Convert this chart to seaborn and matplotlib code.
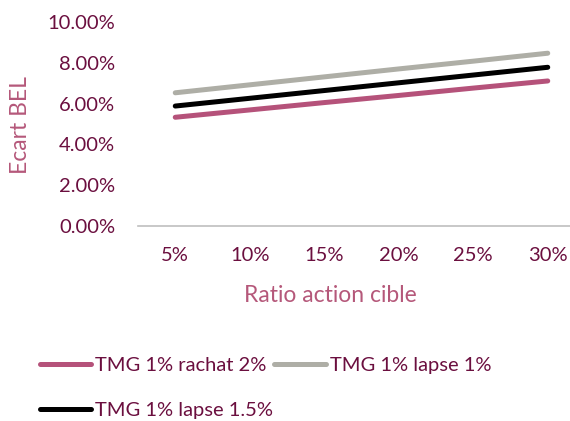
import matplotlib
matplotlib.use("Agg")
import matplotlib.pyplot as plt
import seaborn as sns
import pandas as pd
from matplotlib.ticker import PercentFormatter

ratios = ["5%", "10%", "15%", "20%", "25%", "30%"]
rachat_2 = [5.33, 5.69, 6.05, 6.40, 6.76, 7.11]
lapse_1 = [6.53, 6.92, 7.31, 7.70, 8.08, 8.47]
lapse_15 = [5.88, 6.26, 6.64, 7.02, 7.40, 7.78]
series_names = ["TMG 1% rachat 2%", "TMG 1% lapse 1%", "TMG 1% lapse 1.5%"]
series_values = [rachat_2, lapse_1, lapse_15]
colors = ["#B5527A", "#AEAEA6", "#000000"]

rows = []
for name, vals in zip(series_names, series_values):
    for i, (r, v) in enumerate(zip(ratios, vals)):
        rows.append({"pos": i, "ratio": r, "ecart": v / 100, "serie": name})
df = pd.DataFrame(rows)

sns.set_theme(style="white")
plt.rcParams["font.family"] = ["Lato", "DejaVu Sans"]

tick_color = "#6B0F3F"
label_color = "#B5587A"

fig = plt.figure(figsize=(5.70, 4.21), dpi=100)
ax = fig.add_axes([138 / 570, 1 - 226 / 421, (585 - 138) / 570, (226 - 22) / 421])

sns.lineplot(data=df, x="pos", y="ecart", hue="serie", hue_order=series_names,
             palette=colors, linewidth=3.6, ax=ax, legend=True, sort=False)
for line in ax.lines:
    line.set_solid_capstyle("round")

ax.set_xlim(-0.5, len(ratios) - 0.5)
ax.set_ylim(0, 0.10)
ax.set_yticks([0, 0.02, 0.04, 0.06, 0.08, 0.10])
ax.yaxis.set_major_formatter(PercentFormatter(1.0, decimals=2))
ax.set_xticks(range(len(ratios)))
ax.set_xticklabels(ratios)
ax.tick_params(axis="both", colors=tick_color, labelsize=14.5, length=0)
ax.tick_params(axis="x", pad=15)
ax.tick_params(axis="y", pad=16.5)

for side in ["top", "right", "left"]:
    ax.spines[side].set_visible(False)
ax.spines["bottom"].set_color("#BFBFBF")
ax.spines["bottom"].set_linewidth(1.2)

ax.set_xlabel("Ratio action cible", color=label_color, fontsize=16.5)
ax.xaxis.set_label_coords((330 - 138) / 447, -(296 - 226) / 204)
ax.xaxis.label.set_va("center")
ax.set_ylabel("Ecart BEL", color=label_color, fontsize=16.5)
ax.yaxis.set_label_coords(-(138 - 21) / 447, 0.495)
ax.yaxis.label.set_va("center")

# legend entries filled row by row: rachat, lapse 1% on top, lapse 1.5% below
handles, labels = ax.get_legend_handles_labels()
ax.get_legend().remove()
for h in handles:
    h.set_linewidth(3.6)
    h.set_solid_capstyle("round")
order = [0, 2, 1]
fig.legend([handles[i] for i in order], [labels[i] for i in order],
           loc="upper left", bbox_to_anchor=(40 / 570, 1 - 357 / 421),
           ncol=2, frameon=False, fontsize=14.5, handlelength=2.55, handletextpad=0.2,
           columnspacing=0.05, labelspacing=1.4, labelcolor=tick_color,
           borderaxespad=0, borderpad=0)

fig.savefig("out.png", dpi=100)
